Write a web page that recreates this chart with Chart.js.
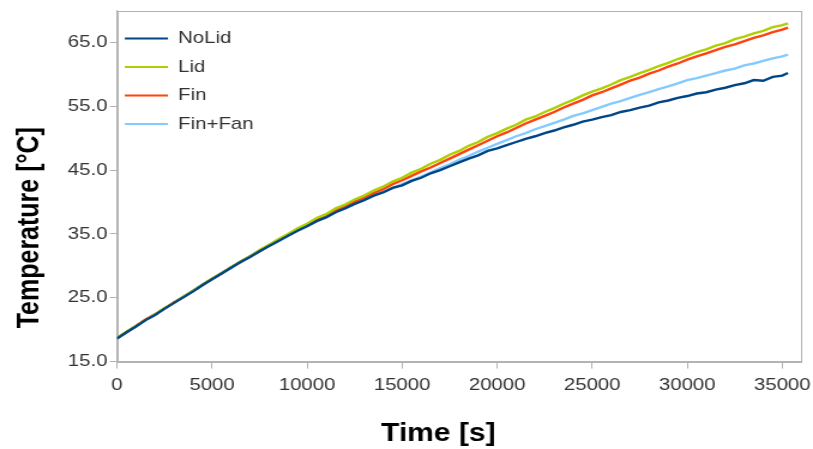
<!DOCTYPE html>
<html>
<head>
<meta charset="utf-8">
<script src="https://cdn.jsdelivr.net/npm/chart.js@4.4.1/dist/chart.umd.min.js"></script>
<style>
  html, body { margin: 0; padding: 0; background: #ffffff; overflow: hidden; width: 813px; height: 449px; }
  #wrap { width: 683px; height: 449px; transform: scaleX(1.19912); transform-origin: 0 0; }
</style>
</head>
<body>
<div id="wrap"><canvas id="c" width="683" height="449"></canvas></div>
<script>
// ---- data ----
const times = [0,500,1000,1500,2000,2500,3000,3500,4000,4500,5000,5500,6000,6500,7000,7500,8000,8500,9000,9500,
  10000,10500,11000,11500,12000,12500,13000,13500,14000,14500,15000,15500,16000,16500,17000,17500,18000,18500,19000,19500,
  20000,20500,21000,21500,22000,22500,23000,23500,24000,24500,25000,25500,26000,26500,27000,27500,28000,28500,29000,29500,
  30000,30500,31000,31500,32000,32500,33000,33500,34000,34500,35000,35300];

const noLid = [18.6,19.6,20.5,21.5,22.3,23.3,24.2,25.1,26.0,27.0,27.9,28.8,29.7,30.6,31.4,32.3,33.1,33.9,34.7,35.5,
  36.2,37.0,37.6,38.4,39.0,39.7,40.3,41.0,41.5,42.2,42.6,43.3,43.8,44.5,45.0,45.6,46.2,46.8,47.3,48.0,
  48.4,48.9,49.4,49.9,50.3,50.8,51.2,51.7,52.1,52.6,52.9,53.3,53.6,54.1,54.4,54.8,55.1,55.6,55.9,56.3,
  56.6,57.0,57.2,57.6,57.9,58.3,58.6,59.1,59.0,59.6,59.8,60.2];

const lid = [18.7,19.7,20.6,21.5,22.4,23.4,24.2,25.2,26.1,27.1,28.0,28.9,29.8,30.7,31.5,32.5,33.3,34.2,35.0,35.9,
  36.6,37.5,38.1,39.0,39.6,40.4,41.0,41.8,42.4,43.2,43.8,44.6,45.2,46.0,46.6,47.4,48.0,48.8,49.4,50.2,
  50.8,51.5,52.1,52.9,53.4,54.1,54.7,55.4,56.0,56.7,57.3,57.8,58.4,59.1,59.6,60.2,60.7,61.3,61.8,62.4,
  62.9,63.5,63.9,64.5,64.9,65.5,65.9,66.4,66.8,67.4,67.7,68.0];

const fin = [18.7,19.6,20.6,21.6,22.4,23.3,24.3,25.1,26.1,27.0,28.0,28.8,29.8,30.6,31.5,32.3,33.2,34.1,34.9,35.7,
  36.5,37.3,38.0,38.7,39.4,40.1,40.7,41.4,42.0,42.8,43.4,44.1,44.8,45.4,46.1,46.8,47.5,48.2,48.9,49.6,
  50.3,50.9,51.6,52.3,52.9,53.5,54.1,54.8,55.4,56.0,56.7,57.2,57.8,58.4,59.0,59.5,60.1,60.6,61.2,61.7,
  62.3,62.8,63.3,63.8,64.3,64.7,65.2,65.7,66.1,66.6,67.0,67.3];

const finFan = [18.7,19.6,20.6,21.5,22.4,23.3,24.2,25.2,26.0,27.0,27.9,28.8,29.7,30.7,31.5,32.3,33.2,34.0,34.8,35.6,
  36.3,37.0,37.7,38.4,39.1,39.7,40.4,41.0,41.6,42.2,42.8,43.4,44.0,44.6,45.3,45.9,46.6,47.2,47.9,48.5,
  49.1,49.7,50.3,50.8,51.4,51.9,52.4,52.9,53.5,53.9,54.4,54.9,55.4,55.8,56.3,56.8,57.2,57.7,58.1,58.6,
  59.1,59.4,59.8,60.2,60.6,60.9,61.4,61.7,62.1,62.5,62.8,63.1];

const seriesNames = ['NoLid', 'Lid', 'Fin', 'Fin+Fan'];
const seriesColors = ['#004586', '#aecf00', '#ff420e', '#83caff'];
const xTicks = [0,5000,10000,15000,20000,25000,30000,35000];
const yTicks = [15,25,35,45,55,65];
const xTitle = 'Time [s]';
const yTitle = 'Temperature [°C]';

const seriesValues = [noLid, lid, fin, finFan];
const datasets = seriesValues.map((vals, i) => ({
  label: seriesNames[i],
  data: vals.map((v, k) => ({x: times[k], y: v})),
  borderColor: seriesColors[i],
  backgroundColor: seriesColors[i],
  borderWidth: 2.4,
  pointRadius: 0,
  tension: 0
}));

const frame = {
  id: 'frame',
  afterLayout(chart) {
    // nudge the in-plot legend closer to the left frame
    if (chart.legend) { chart.legend.left -= 5; chart.legend.right -= 5; }
  },
  beforeDatasetsDraw(chart) {
    const a = chart.chartArea, ctx = chart.ctx;
    ctx.save();
    ctx.strokeStyle = '#b3b3b3';
    ctx.lineWidth = 1;
    ctx.strokeRect(Math.round(a.left) + 0.5, Math.round(a.top) + 0.5,
                   Math.round(a.right - a.left) - 1, Math.round(a.bottom - a.top));
    ctx.restore();
  }
};

new Chart(document.getElementById('c'), {
  type: 'line',
  data: { datasets },
  plugins: [frame],
  options: {
    responsive: false,
    animation: false,
    layout: { padding: { left: 6.5, top: 9, right: 0, bottom: 0 } },
    plugins: {
      legend: {
        position: 'chartArea',
        align: 'start',
        title: { display: true, text: ' ', font: { size: 12 }, padding: { top: 2, bottom: 2 } },
        labels: {
          boxWidth: 36,
          boxHeight: 2,
          padding: 11.5,
          color: '#333333',
          font: { family: 'Liberation Sans', size: 17 },
          generateLabels(chart) {
            return Chart.defaults.plugins.legend.labels.generateLabels(chart).map(it => {
              it.fillStyle = it.strokeStyle; it.lineWidth = 0; return it;
            });
          }
        }
      },
      tooltip: { enabled: false }
    },
    scales: {
      x: {
        type: 'linear',
        min: 0, max: 36000,
        afterBuildTicks(scale) { scale.ticks = xTicks.map(v => ({value: v})); },
        grid: { drawOnChartArea: false, drawTicks: true, tickLength: 7, color: '#b3b3b3' },
        border: { display: true, color: '#b3b3b3' },
        ticks: { color: '#333333', font: { family: 'Liberation Sans', size: 17 }, padding: 7,
                 maxRotation: 0, callback: v => String(v) },
        title: { display: true, text: xTitle + '     ', color: '#000000',
                 font: { family: 'Liberation Sans', size: 25, weight: 'bold' }, padding: { top: 16, bottom: 0 } }
      },
      y: {
        type: 'linear',
        min: 15, max: 70,
        afterBuildTicks(scale) { scale.ticks = yTicks.map(v => ({value: v})); },
        grid: { drawOnChartArea: false, drawTicks: true, tickLength: 6, color: '#b3b3b3' },
        border: { display: true, color: '#b3b3b3' },
        ticks: { color: '#333333', font: { family: 'Liberation Sans', size: 17, lineHeight: 1 }, padding: 2,
                 callback: v => Number(v).toFixed(1) },
        title: { display: true, text: yTitle + '            ', color: '#000000',
                 font: { family: 'Liberation Sans', size: 25, weight: 'bold' }, padding: { top: 4, bottom: 14 } }
      }
    }
  }
});
</script>
</body>
</html>
